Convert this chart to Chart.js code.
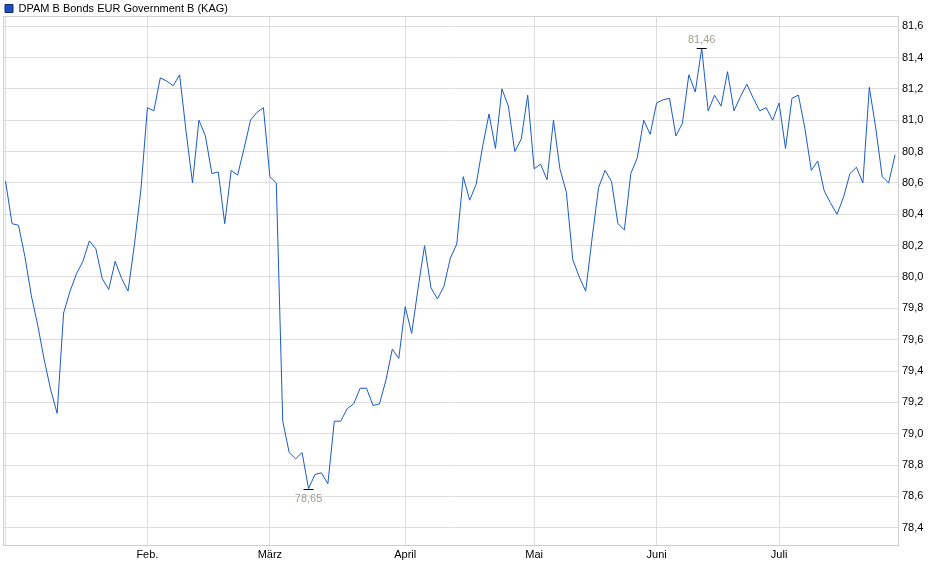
<!DOCTYPE html>
<html>
<head>
<meta charset="utf-8">
<script src="https://cdn.jsdelivr.net/npm/chart.js@4.4.1/dist/chart.umd.min.js"></script>
<style>
  html, body { margin: 0; padding: 0; background: #fff; }
  #wrap { width: 940px; height: 579px; }
</style>
</head>
<body>
<div id="wrap"><canvas id="chart"></canvas></div>
<script>
const seriesName = "DPAM B Bonds EUR Government B (KAG)";

// daily prices, one per trading day (Jan - Jul)
const prices = [
  80.61, 80.34, 80.33, 80.13, 79.88, 79.69, 79.47, 79.28, 79.13, 79.77,
  79.91, 80.02, 80.10, 80.23, 80.18, 79.99, 79.92, 80.10, 79.99, 79.91,
  80.21, 80.56, 81.08, 81.06, 81.27, 81.25, 81.22, 81.29, 80.93, 80.60,
  81.00, 80.90, 80.66, 80.67, 80.34, 80.68, 80.65, 80.82, 81.00, 81.05,
  81.08, 80.64, 80.60, 79.08, 78.88, 78.84, 78.88, 78.65, 78.74, 78.75,
  78.68, 79.08, 79.08, 79.16, 79.19, 79.29, 79.29, 79.18, 79.19, 79.34,
  79.54, 79.48, 79.81, 79.64, 79.93, 80.20, 79.93, 79.86, 79.94, 80.12,
  80.21, 80.64, 80.49, 80.59, 80.83, 81.04, 80.82, 81.20, 81.09, 80.80,
  80.88, 81.16, 80.69, 80.72, 80.62, 81.00, 80.69, 80.54, 80.11, 80.00,
  79.91, 80.25, 80.57, 80.68, 80.61, 80.34, 80.30, 80.66, 80.76, 81.00,
  80.91, 81.11, 81.13, 81.14, 80.90, 80.98, 81.29, 81.18, 81.46, 81.06,
  81.16, 81.09, 81.31, 81.06, 81.15, 81.23, 81.14, 81.06, 81.08, 81.00,
  81.11, 80.82, 81.14, 81.16, 80.95, 80.68, 80.74, 80.55, 80.47, 80.40,
  80.51, 80.66, 80.70, 80.60, 81.21, 80.95, 80.64, 80.60, 80.78
];

// index of the first trading day of each month
const monthStarts = [0, 22, 41, 62, 82, 101, 120];
const monthLabels = ["", "Feb.", "März", "April", "Mai", "Juni", "Juli"];

const yTicks = [78.4, 78.6, 78.8, 79.0, 79.2, 79.4, 79.6, 79.8, 80.0,
                80.2, 80.4, 80.6, 80.8, 81.0, 81.2, 81.4, 81.6];
const yMin = 78.29;
const yMax = 81.665;

const FONT = "'Liberation Sans', Arial, sans-serif";
const deComma = (v, d) => v.toFixed(d).replace(".", ",");

// light grey frame round the plot area
const framePlugin = {
  id: "frame",
  beforeDatasetsDraw(chart) {
    const a = chart.chartArea;
    const ctx = chart.ctx;
    ctx.save();
    ctx.strokeStyle = "#cfcfcf";
    ctx.lineWidth = 1;
    ctx.strokeRect(Math.round(a.left) + 0.5, Math.round(a.top) + 0.5,
      Math.round(a.right - a.left), Math.round(a.bottom - a.top));
    ctx.restore();
  }
};

// high / low markers with value labels
const extremesPlugin = {
  id: "extremes",
  afterDatasetsDraw(chart) {
    const data = chart.data.datasets[0].data;
    let lo = 0, hi = 0;
    data.forEach((p, i) => {
      if (p.y < data[lo].y) lo = i;
      if (p.y > data[hi].y) hi = i;
    });
    const xs = chart.scales.x, ys = chart.scales.y;
    const ctx = chart.ctx;
    ctx.save();
    ctx.font = "11px " + FONT;
    ctx.textAlign = "center";
    [[lo, true], [hi, false]].forEach(([i, below]) => {
      const px = xs.getPixelForValue(data[i].x);
      const py = Math.round(ys.getPixelForValue(data[i].y)) + 0.5;
      ctx.strokeStyle = "#000";
      ctx.lineWidth = 1;
      ctx.beginPath();
      ctx.moveTo(px - 5, py);
      ctx.lineTo(px + 5, py);
      ctx.stroke();
      ctx.fillStyle = "#a59d94";
      if (below) {
        ctx.textBaseline = "top";
        ctx.fillText(deComma(data[i].y, 2), px, py + 4);
      } else {
        ctx.textBaseline = "bottom";
        ctx.fillText(deComma(data[i].y, 2), px, py - 3);
      }
    });
    ctx.restore();
  }
};

new Chart(document.getElementById("chart"), {
  type: "line",
  data: {
    datasets: [
      {
        label: seriesName,
        data: prices.map((v, i) => ({ x: i, y: v })),
        borderColor: "#1a5ac8",
        backgroundColor: "#1c4fc0",
        borderWidth: 1,
        pointRadius: 0,
        tension: 0,
        fill: false,
      },
    ],
  },
  options: {
    responsive: true,
    maintainAspectRatio: false,
    animation: false,
    layout: { padding: { left: 3, top: 1, right: 0, bottom: 0 } },
    plugins: {
      tooltip: { enabled: false },
      legend: {
        position: "top",
        align: "start",
        maxHeight: 15,
        labels: {
          boxWidth: 8,
          boxHeight: 8,
          padding: 2,
          color: "#000",
          font: { size: 11, family: FONT },
          generateLabels: () => [{
            text: seriesName,
            fillStyle: "#1c4fc0",
            strokeStyle: "#0d2b6b",
            lineWidth: 1,
            fontColor: "#000",
          }],
        },
      },
    },
    scales: {
      x: {
        type: "linear",
        min: -0.4,
        max: prices.length - 1 + 0.45,
        afterBuildTicks: (scale) => {
          scale.ticks = monthStarts.map((v) => ({ value: v }));
        },
        afterFit: (scale) => { scale.height = 34; },
        grid: { color: "#dddddd", drawTicks: false },
        border: { display: false },
        ticks: {
          autoSkip: false,
          maxRotation: 0,
          padding: 3,
          color: "#000",
          font: { size: 11, family: FONT },
          callback: (v, i) => monthLabels[i],
        },
      },
      y: {
        type: "linear",
        position: "right",
        min: yMin,
        max: yMax,
        afterBuildTicks: (scale) => {
          scale.ticks = yTicks.map((v) => ({ value: v }));
        },
        afterFit: (scale) => { scale.width = 42; },
        grid: { color: "#dddddd", drawTicks: false },
        border: { display: false },
        ticks: {
          padding: 4,
          color: "#000",
          font: { size: 11, family: FONT },
          callback: (v) => deComma(v, 1),
        },
      },
    },
  },
  plugins: [framePlugin, extremesPlugin],
});
</script>
</body>
</html>
